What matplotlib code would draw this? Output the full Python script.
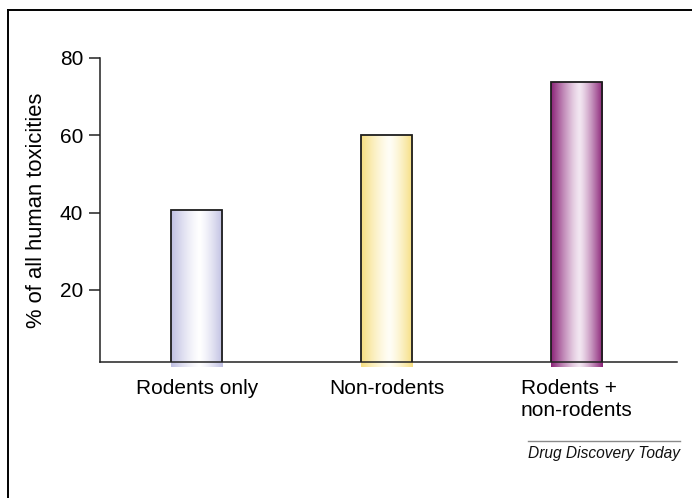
import numpy as np
import matplotlib
matplotlib.use("Agg")
import matplotlib.pyplot as plt
from matplotlib.colors import LinearSegmentedColormap
from matplotlib.lines import Line2D

plt.rcParams["font.family"] = ["Liberation Sans", "DejaVu Sans"]

categories = ["Rodents only", "Non-rodents", "Rodents +\nnon-rodents"]
values = [40.7, 60.0, 73.8]
yticks = [20, 40, 60, 80]
# (edge colour, centre colour) of the shaded bars
bar_shades = [("#bfbfe2", "#ffffff"), ("#f6de80", "#fffef6"), ("#8a2277", "#f2e6f1")]

W, H = 692, 498
fig = plt.figure(figsize=(W / 100, H / 100), dpi=100)
ax = fig.add_axes([100 / W, 1 - 362 / H, 577 / W, 304 / H])

x = np.arange(len(categories))
bars = ax.bar(x, values, width=0.27, facecolor="none", edgecolor="#1e1e1e",
              linewidth=1.3, zorder=3)

# horizontal cylinder-like shading, clipped to each bar
t = np.linspace(0, 1, 256)
profile = 1 - np.abs((t - 0.55) / np.where(t < 0.55, 0.55, 0.45)) ** 1.3
for bar, (edge, centre) in zip(bars, bar_shades):
    cmap = LinearSegmentedColormap.from_list("shade", [edge, centre])
    x0, w, h = bar.get_x(), bar.get_width(), bar.get_height()
    im = ax.imshow(profile[np.newaxis, :], cmap=cmap, vmin=0, vmax=1,
                   aspect="auto", extent=(x0, x0 + w, 0, h), zorder=2,
                   interpolation="bilinear")
    im.set_clip_path(bar)

ax.set_xlim(-0.51, 2.53)
ax.set_ylim(1.3, 80)
ax.set_yticks(yticks)
ax.set_yticklabels([str(v) for v in yticks], fontsize=15)
ax.tick_params(axis="y", length=8, width=1.1, pad=4, color="#222222")
ax.set_xticks(x)
ax.set_xticklabels(categories, fontsize=15)
ax.tick_params(axis="x", length=0, pad=12)
ax.get_xticklabels()[2].set_multialignment("left")
for s in ["top", "right"]:
    ax.spines[s].set_visible(False)
for s in ["left", "bottom"]:
    ax.spines[s].set_linewidth(1.1)
    ax.spines[s].set_color("#222222")
ax.set_ylabel("% of all human toxicities", fontsize=15.8, labelpad=9)

# page frame along top and left
fig.add_artist(Line2D([8 / W, 8 / W], [0, 1 - 10 / H], color="black", linewidth=1.4))
fig.add_artist(Line2D([8 / W, 1], [1 - 10 / H, 1 - 10 / H], color="black", linewidth=1.4))

# journal credit
fig.add_artist(Line2D([528 / W, 680 / W], [1 - 441 / H, 1 - 441 / H],
                      color="#8a8a8a", linewidth=1))
fig.text(680 / W, 1 - 453 / H, "Drug Discovery Today", ha="right", va="center",
         fontsize=11.2, style="italic", color="#111111")

fig.savefig("out.png", dpi=100, facecolor="white")
